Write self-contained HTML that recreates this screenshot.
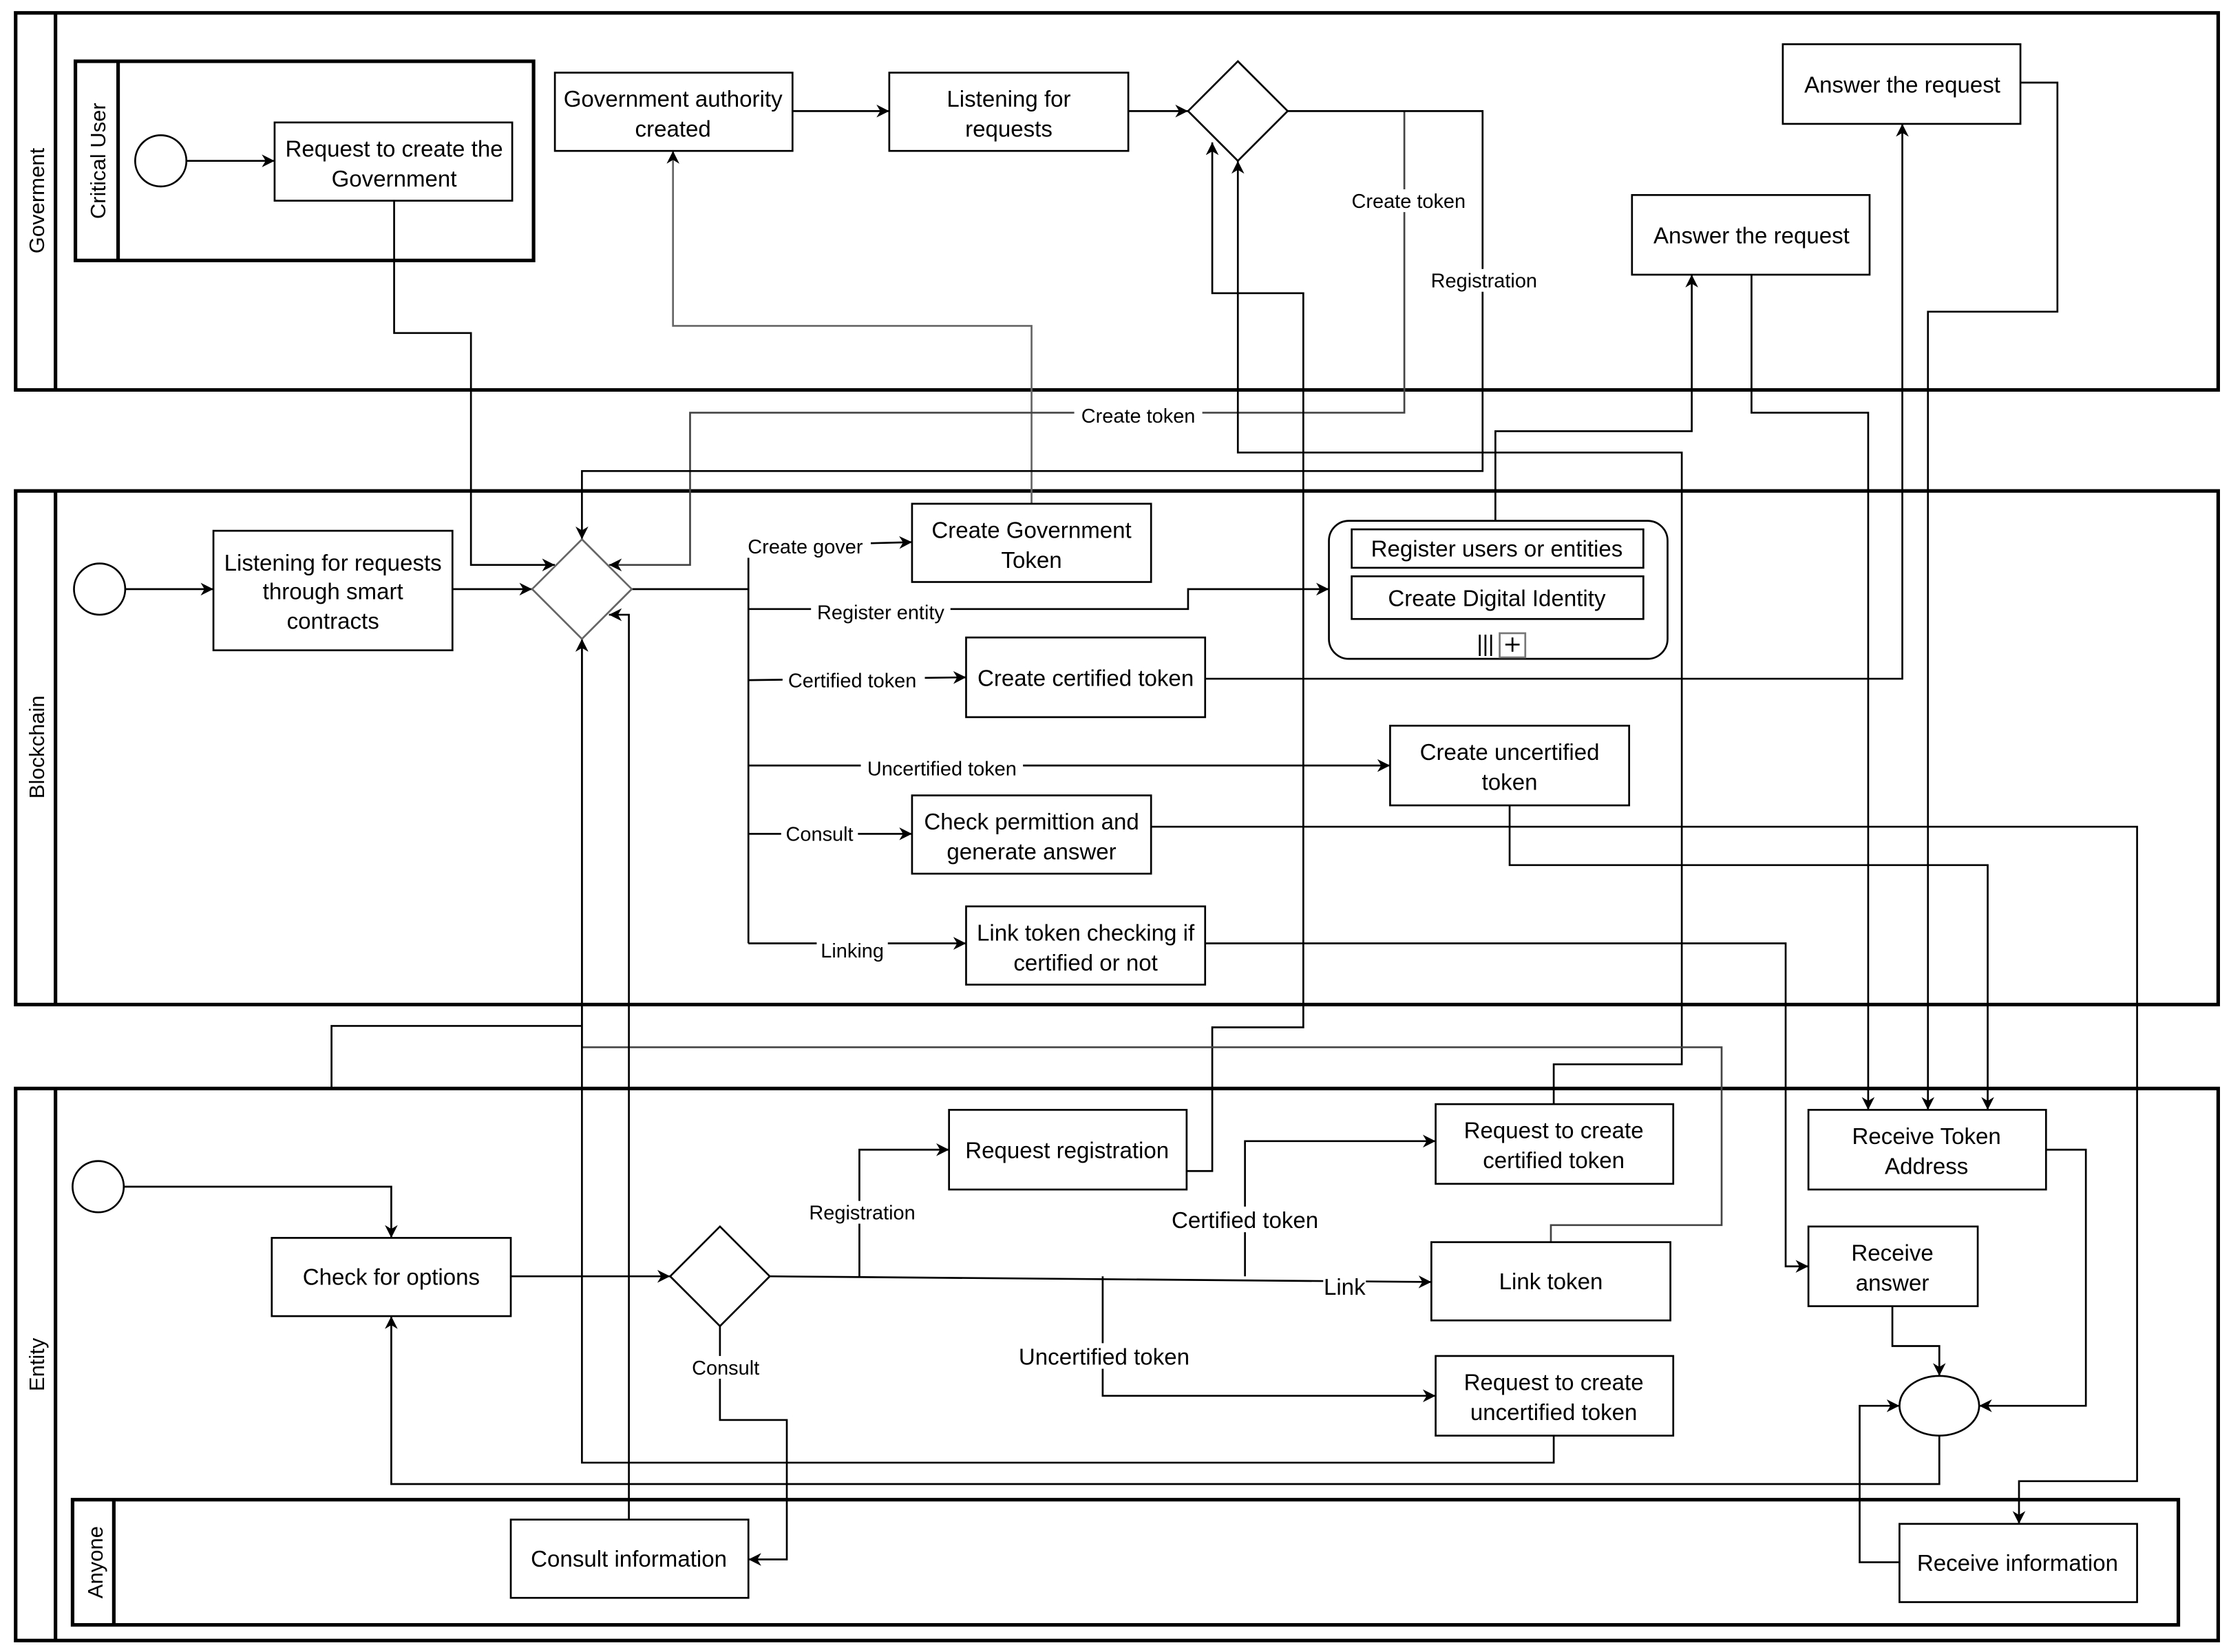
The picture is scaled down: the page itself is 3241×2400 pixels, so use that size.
<!DOCTYPE html>
<html><head><meta charset="utf-8"><style>
html,body{margin:0;padding:0;background:#fff;}
svg{display:block;}
text{font-family:"Liberation Sans",sans-serif;fill:#000;}
</style></head><body>
<svg width="3241" height="2400" viewBox="0 0 1568 1161" xmlns="http://www.w3.org/2000/svg">
<defs>
<marker id="a" viewBox="0 0 10 10" refX="10" refY="5" markerWidth="9" markerHeight="9" markerUnits="userSpaceOnUse" orient="auto"><path d="M0,0 L10,5 L0,10 L3,5 z" fill="#000"/></marker>
</defs>
<rect width="1568" height="1161" fill="#fff"/>
<g fill="none" stroke="#000" stroke-width="2.5">
<rect x="11" y="9" width="1548" height="265"/><line x1="39" y1="9" x2="39" y2="274"/>
<rect x="53" y="43" width="322" height="140"/><line x1="83" y1="43" x2="83" y2="183"/>
<rect x="11" y="345" width="1548" height="361"/><line x1="39" y1="345" x2="39" y2="706"/>
<rect x="11" y="765" width="1548" height="388"/><line x1="39" y1="765" x2="39" y2="1153"/>
<rect x="51" y="1054" width="1480" height="88"/><line x1="80" y1="1054" x2="80" y2="1142"/>
</g>
<g font-size="15">
<text transform="translate(31,141) rotate(-90)" text-anchor="middle">Goverment</text>
<text transform="translate(74,113) rotate(-90)" text-anchor="middle">Critical User</text>
<text transform="translate(31,525) rotate(-90)" text-anchor="middle">Blockchain</text>
<text transform="translate(31,959) rotate(-90)" text-anchor="middle">Entity</text>
<text transform="translate(72,1098) rotate(-90)" text-anchor="middle">Anyone</text>
</g>
<!-- connectors -->
<g fill="none" stroke="#000" stroke-width="1.3" marker-end="url(#a)">
<polyline points="131,113 193,113"/>
<polyline points="277,141 277,234 331,234 331,397 390,397"/>
<polyline points="557,78 625,78"/>
<polyline points="793,78 835,78"/>
<polyline points="725,354 725,229 473,229 473,106" stroke="#666"/>
<polyline points="987,78 987,290 485,290 485,397 428,397" stroke="#444"/>
<polyline points="905,78 1042,78 1042,331 409,331 409,379"/>
<polyline points="88,414 150,414"/>
<polyline points="318,414 374,414"/>
<polyline points="526,384 641,381"/>
<polyline points="526,428 835,428 835,414 934,414"/>
<polyline points="526,478 679,476"/>
<polyline points="526,538 977,538"/>
<polyline points="526,586 641,586"/>
<polyline points="526,663 679,663"/>
<polyline points="847,477 1337,477 1337,87"/>
<polyline points="1051,372 1051,303 1189,303 1189,193"/>
<polyline points="1420,58 1446,58 1446,219 1355,219 1355,780"/>
<polyline points="1231,193 1231,290 1313,290 1313,780"/>
<polyline points="1061,566 1061,608 1397,608 1397,780"/>
<polyline points="809,581 1502,581 1502,1041 1419,1041 1419,1071"/>
<polyline points="847,663 1255,663 1255,890 1271,890"/>
<polyline points="1330,918 1330,946 1363,946 1363,967"/>
<polyline points="1438,808 1466,808 1466,988 1391,988"/>
<polyline points="1363,1009 1363,1043 275,1043 275,925"/>
<polyline points="1335,1098 1307,1098 1307,988 1335,988"/>
<polyline points="87,834 275,834 275,870"/>
<polyline points="359,897 471,897"/>
<polyline points="541,897 1006,901"/>
<polyline points="604,897 604,808 667,808"/>
<polyline points="875,897 875,802 1009,802"/>
<polyline points="775,897 775,981 1009,981"/>
<polyline points="506,932 506,998 553,998 553,1096 526,1096"/>
<polyline points="834,823 852,823 852,722 916,722 916,206 852,206 852,100"/>
<polyline points="1092,776 1092,748 1182,748 1182,318 870,318 870,113"/>
<polyline points="1090,873 1090,861 1210,861 1210,736 409,736 409,449" stroke="#444"/>
<polyline points="1092,1009 1092,1028 409,1028 409,449"/>
<polyline points="442,1068 442,432 428,432"/>
</g>
<g fill="none" stroke="#000" stroke-width="1.3">
<polyline points="444,414 526,414"/>
<line x1="526" y1="384" x2="526" y2="663"/>
<polyline points="233,765 233,721 409,721"/>
</g>
<!-- events/gateways -->
<g fill="#fff" stroke="#000" stroke-width="1.3">
<circle cx="113" cy="113" r="18"/>
<circle cx="70" cy="414" r="18"/>
<circle cx="69" cy="834" r="18"/>
<ellipse cx="1363" cy="988" rx="28" ry="21"/>
<polygon points="870,43 905,78 870,113 835,78"/>
<polygon points="409,379 444,414 409,449 374,414" stroke="#666"/>
<polygon points="506,862 541,897 506,932 471,897"/>
</g>
<!-- boxes -->
<g fill="#fff" stroke="#000" stroke-width="1.3">
<rect x="193" y="86" width="167" height="55"/>
<rect x="390" y="51" width="167" height="55"/>
<rect x="625" y="51" width="168" height="55"/>
<rect x="1253" y="31" width="167" height="56"/>
<rect x="1147" y="137" width="167" height="56"/>
<rect x="150" y="373" width="168" height="84"/>
<rect x="641" y="354" width="168" height="55"/>
<rect x="934" y="366" width="238" height="97" rx="14"/>
<rect x="950" y="372" width="205" height="27"/>
<rect x="950" y="405" width="205" height="30"/>
<rect x="1054" y="445" width="18" height="17" stroke="#777"/>
<rect x="679" y="448" width="168" height="56"/>
<rect x="977" y="510" width="168" height="56"/>
<rect x="641" y="559" width="168" height="55"/>
<rect x="679" y="637" width="168" height="55"/>
<rect x="191" y="870" width="168" height="55"/>
<rect x="667" y="780" width="167" height="56"/>
<rect x="1009" y="776" width="167" height="56"/>
<rect x="1006" y="873" width="168" height="55"/>
<rect x="1009" y="953" width="167" height="56"/>
<rect x="1271" y="780" width="167" height="56"/>
<rect x="1271" y="862" width="119" height="56"/>
<rect x="359" y="1068" width="167" height="55"/>
<rect x="1335" y="1071" width="167" height="55"/>
</g>
<g stroke="#000" stroke-width="1.3"><line x1="1040" y1="446" x2="1040" y2="461"/><line x1="1044" y1="446" x2="1044" y2="461"/><line x1="1048" y1="446" x2="1048" y2="461"/><line x1="1058" y1="453" x2="1068" y2="453"/><line x1="1063" y1="448" x2="1063" y2="458"/></g>
<g font-size="16" text-anchor="middle">
<text x="277" y="110">Request to create the</text><text x="277" y="131">Government</text>
<text x="473" y="75">Government authority</text><text x="473" y="96">created</text>
<text x="709" y="75">Listening for</text><text x="709" y="96">requests</text>
<text x="1337" y="65">Answer the request</text>
<text x="1231" y="171">Answer the request</text>
<text x="234" y="401">Listening for requests</text><text x="234" y="421">through smart</text><text x="234" y="442">contracts</text>
<text x="725" y="378">Create Government</text><text x="725" y="399">Token</text>
<text x="1052" y="391">Register users or entities</text>
<text x="1052" y="426">Create Digital Identity</text>
<text x="763" y="482">Create certified token</text>
<text x="1061" y="534">Create uncertified</text><text x="1061" y="555">token</text>
<text x="725" y="583">Check permittion and</text><text x="725" y="604">generate answer</text>
<text x="763" y="661">Link token checking if</text><text x="763" y="682">certified or not</text>
<text x="275" y="903">Check for options</text>
<text x="750" y="814">Request registration</text>
<text x="1092" y="800">Request to create</text><text x="1092" y="821">certified token</text>
<text x="1090" y="906">Link token</text>
<text x="1092" y="977">Request to create</text><text x="1092" y="998">uncertified token</text>
<text x="1354" y="804">Receive Token</text><text x="1354" y="825">Address</text>
<text x="1330" y="886">Receive</text><text x="1330" y="907">answer</text>
<text x="442" y="1101">Consult information</text>
<text x="1418" y="1104">Receive information</text>
</g>
<g font-size="14" text-anchor="middle">
<rect x="945" y="133" width="90" height="16" fill="#fff"/><text x="990" y="146">Create token</text>
<rect x="755" y="284" width="90" height="16" fill="#fff"/><text x="800" y="297">Create token</text>
<rect x="1001" y="189" width="84" height="16" fill="#fff"/><text x="1043" y="202">Registration</text>
<rect x="520" y="376" width="92" height="16" fill="#fff"/><text x="566" y="389">Create gover</text>
<rect x="570" y="422" width="98" height="16" fill="#fff"/><text x="619" y="435">Register entity</text>
<rect x="550" y="470" width="100" height="16" fill="#fff"/><text x="599" y="483">Certified token</text>
<rect x="605" y="532" width="114" height="16" fill="#fff"/><text x="662" y="545">Uncertified token</text>
<rect x="549" y="578" width="54" height="16" fill="#fff"/><text x="576" y="591">Consult</text>
<rect x="574" y="660" width="50" height="16" fill="#fff"/><text x="599" y="673">Linking</text>
<rect x="564" y="844" width="86" height="16" fill="#fff"/><text x="606" y="857">Registration</text>
<rect x="484" y="953" width="54" height="16" fill="#fff"/><text x="510" y="966">Consult</text>
</g>
<g font-size="16" text-anchor="middle">
<rect x="820" y="848" width="110" height="18" fill="#fff"/><text x="875" y="863">Certified token</text>
<rect x="930" y="896" width="30" height="18" fill="#fff"/><text x="945" y="910">Link</text>
<rect x="712" y="944" width="128" height="18" fill="#fff"/><text x="776" y="959">Uncertified token</text>
</g>
</svg>
</body></html>
